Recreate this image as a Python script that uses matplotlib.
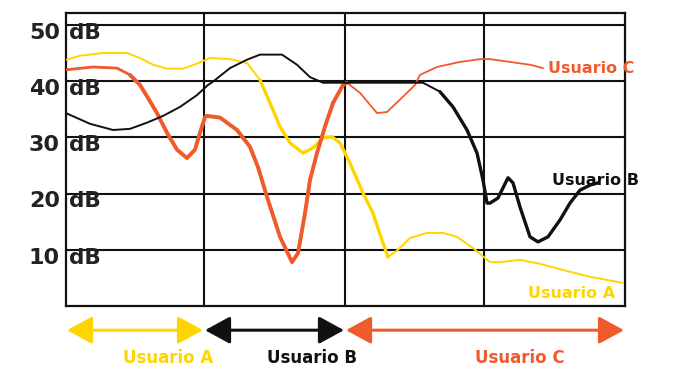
import matplotlib
matplotlib.use("Agg")
import matplotlib.pyplot as plt
from matplotlib.patches import FancyArrowPatch

# ---- data (x = position along timeline, y = level in dB) ----
yellow_x = [0, 14, 37, 61, 74, 87, 101, 117, 131, 144, 164, 181, 194, 204, 214, 224, 237, 247, 257, 266,
            274, 284, 297, 307, 316, 322, 332, 344, 361, 377, 391, 407, 424, 434, 454, 474, 497, 524, 557]
yellow_y = [43.8, 44.5, 45.0, 45.0, 44.1, 42.9, 42.2, 42.2, 43.1, 44.1, 43.9, 43.2, 40.2, 36.1, 31.9, 29.0, 27.2, 28.1, 29.9, 30.1,
            29.0, 25.4, 20.1, 16.5, 11.7, 8.7, 10.0, 12.1, 13.0, 13.0, 12.3, 10.3, 7.8, 7.8, 8.2, 7.5, 6.4, 5.2, 4.1]

red_x = [0, 27, 51, 64, 74, 82, 91, 101, 111, 121, 129, 134, 139, 141, 154, 171, 184, 192, 201, 214, 226,
         232, 239, 244, 251, 259, 267, 277, 281, 294, 311, 321, 334, 349, 354, 371, 394, 414, 424, 444, 464, 477]
red_y = [42.0, 42.5, 42.3, 41.1, 39.3, 37.0, 34.3, 30.8, 27.8, 26.3, 27.8, 30.8, 33.6, 33.8, 33.5, 31.3, 28.3, 24.7, 19.4, 12.3, 7.8,
         9.4, 16.5, 22.4, 27.2, 31.9, 36.1, 39.3, 39.7, 37.9, 34.3, 34.5, 36.7, 39.3, 41.1, 42.5, 43.4, 43.9, 43.9, 43.4, 42.9, 42.3]

black_x = [0, 24, 47, 64, 81, 97, 114, 131, 142, 147, 164, 181, 194, 216, 231, 244, 257, 277, 324, 357, 374,
           387, 401, 411, 417, 421, 424, 432, 442, 447, 454, 464, 472, 482, 494, 504, 514, 524, 532]
black_y = [34.3, 32.4, 31.3, 31.5, 32.6, 33.8, 35.4, 37.5, 39.3, 39.9, 42.3, 43.8, 44.7, 44.7, 42.9, 40.7, 39.7, 39.7, 39.7, 39.7, 38.1,
           35.4, 31.3, 27.2, 22.4, 18.3, 18.3, 19.2, 22.8, 21.9, 17.6, 12.3, 11.4, 12.3, 15.3, 18.3, 20.6, 21.5, 21.9]

y_ticks = [10, 20, 30, 40, 50]
y_tick_labels = ["10", "20", "30", "40", "50"]
x_sections = [0, 138, 279, 418, 559]
series_names = ["Usuario A", "Usuario B", "Usuario C"]

YEL = "#FFD500"
RED = "#F15A2B"
BLK = "#111111"

fig = plt.figure(figsize=(6.73, 3.67), dpi=100)
ax = fig.add_axes([66 / 673, 61 / 367, 559 / 673, 293 / 367])
ax.set_xlim(x_sections[0], x_sections[-1])
ax.set_ylim(0, 52.1)
ax.set_xticks([])
ax.set_yticks([])
for s in ax.spines.values():
    s.set_linewidth(1.6)
    s.set_color(BLK)

for yv in y_ticks:
    ax.axhline(yv, color=BLK, lw=1.5, zorder=1)
for xv in x_sections[1:-1]:
    ax.axvline(xv, color=BLK, lw=1.5, zorder=1)

# tick labels: number outside, "dB" inside
for yv, lab in zip(y_ticks, y_tick_labels):
    ax.text(-6, yv - 1.4, lab, ha="right", va="center", fontsize=16, fontweight="bold",
            color="#222222", clip_on=False)
    ax.text(3, yv - 1.4, "dB", ha="left", va="center", fontsize=15.5, fontweight="bold",
            color="#222222")

def seg(xs, ys, lo, hi):
    pts = [(a, b) for a, b in zip(xs, ys) if lo <= a <= hi]
    return [p[0] for p in pts], [p[1] for p in pts]

# yellow
ax.plot(yellow_x, yellow_y, color=YEL, lw=1.4, zorder=3, solid_capstyle="round")
sx, sy = seg(yellow_x, yellow_y, 190, 325)
ax.plot(sx, sy, color=YEL, lw=2.4, zorder=3, solid_capstyle="round")
# red
ax.plot(red_x, red_y, color=RED, lw=1.3, zorder=4, solid_capstyle="round")
sx, sy = seg(red_x, red_y, 0, 285)
ax.plot(sx, sy, color=RED, lw=2.0, zorder=4, solid_capstyle="round")
sx, sy = seg(red_x, red_y, 60, 282)
ax.plot(sx, sy, color=RED, lw=2.8, zorder=4, solid_capstyle="round")
# black
ax.plot(black_x, black_y, color=BLK, lw=1.4, zorder=5, solid_capstyle="round")
sx, sy = seg(black_x, black_y, 370, 532)
ax.plot(sx, sy, color=BLK, lw=2.4, zorder=5, solid_capstyle="round")

# series labels inside the chart
ax.text(482, 42.2, "Usuario C", color=RED, fontsize=11.5, fontweight="bold", ha="left", va="center",
        clip_on=False, zorder=6)
ax.text(486, 22.3, "Usuario B", color=BLK, fontsize=11.5, fontweight="bold", ha="left", va="center",
        clip_on=False, zorder=6)
ax.text(462, 2.3, "Usuario A", color=YEL, fontsize=11.5, fontweight="bold", ha="left", va="center",
        clip_on=False, zorder=6)

# arrows and section labels below
arrow_cols = [YEL, BLK, RED]
sections = [(x_sections[0], x_sections[1]), (x_sections[1], x_sections[2]), (x_sections[2], x_sections[4])]
label_x = [102, 246, 454]
for (a, b), col, name, lx in zip(sections, arrow_cols, series_names, label_x):
    arr = FancyArrowPatch((a + 1, -4.3), (b - 1, -4.3), arrowstyle="<|-|>,head_length=1.1,head_width=0.6",
                          mutation_scale=14, color=col, lw=2.2, clip_on=False, transform=ax.transData,
                          shrinkA=0, shrinkB=0)
    ax.add_patch(arr)
    ax.text(lx, -9.3, name, color=col, fontsize=12, fontweight="bold", ha="center", va="center",
            clip_on=False)

fig.savefig("out.png", dpi=100)
